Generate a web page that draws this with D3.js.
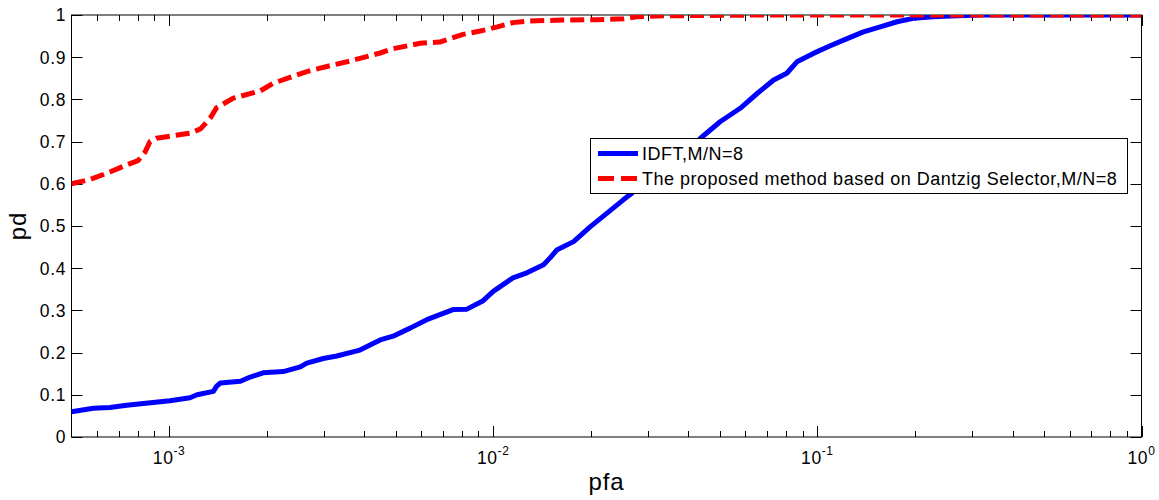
<!DOCTYPE html>
<html>
<head>
<meta charset="utf-8">
<script src="https://cdn.jsdelivr.net/npm/d3@7"></script>
<style>
  body { margin: 0; background: #fff; }
  svg text { font-family: "Liberation Sans", Arial, sans-serif; fill: #000; }
</style>
</head>
<body>
<div id="chart"></div>
<script>
// IDFT, M/N=8
const idftPfa = [5.0e-4, 5.84e-4, 6.57e-4, 7.40e-4, 8.92e-4, 1.007e-3, 1.16e-3, 1.22e-3, 1.37e-3, 1.40e-3, 1.44e-3,
  1.66e-3, 1.78e-3, 1.95e-3, 2.25e-3, 2.54e-3, 2.66e-3, 2.99e-3, 3.29e-3, 3.88e-3, 4.48e-3, 4.91e-3, 5.54e-3,
  6.24e-3, 7.01e-3, 7.52e-3, 8.30e-3, 9.31e-3, 1.0e-2, 1.15e-2, 1.27e-2, 1.43e-2, 1.50e-2, 1.57e-2, 1.77e-2,
  1.99e-2, 2.24e-2, 2.52e-2, 2.84e-2, 3.27e-2, 3.78e-2, 4.36e-2, 5.01e-2, 5.78e-2, 6.52e-2, 7.33e-2, 8.05e-2,
  8.65e-2, 9.72e-2, 0.1096, 0.1236, 0.1387, 0.1563, 0.1762, 0.1977, 0.228, 0.270, 0.318, 1.0];
const idftPd = [0.060, 0.068, 0.070, 0.075, 0.082, 0.086, 0.093, 0.100, 0.108, 0.120, 0.128,
  0.132, 0.142, 0.152, 0.155, 0.166, 0.175, 0.186, 0.192, 0.206, 0.230, 0.239, 0.258,
  0.278, 0.293, 0.302, 0.303, 0.323, 0.345, 0.377, 0.389, 0.408, 0.425, 0.443, 0.463,
  0.498, 0.530, 0.562, 0.593, 0.625, 0.664, 0.708, 0.747, 0.779, 0.814, 0.846, 0.862,
  0.889, 0.909, 0.927, 0.944, 0.960, 0.972, 0.984, 0.992, 0.996, 0.9985, 1.0, 1.0];

// Dantzig Selector, M/N=8
const dsPfa = [5.0e-4, 5.70e-4, 6.57e-4, 7.31e-4, 8.02e-4, 8.43e-4, 8.73e-4, 9.16e-4, 1.16e-3, 1.25e-3, 1.34e-3,
  1.40e-3, 1.58e-3, 1.91e-3, 2.09e-3, 2.66e-3, 3.14e-3, 3.62e-3, 4.48e-3, 4.91e-3, 5.95e-3, 6.85e-3, 7.36e-3,
  8.07e-3, 9.12e-3, 1.03e-2, 1.15e-2, 1.30e-2, 1.64e-2, 2.09e-2, 2.52e-2, 2.77e-2, 3.35e-2, 6.67e-2, 1.0];
const dsPd = [0.600, 0.610, 0.628, 0.643, 0.655, 0.675, 0.700, 0.708, 0.720, 0.730, 0.756,
  0.780, 0.803, 0.820, 0.838, 0.866, 0.880, 0.891, 0.910, 0.920, 0.933, 0.936, 0.944,
  0.954, 0.962, 0.972, 0.982, 0.986, 0.988, 0.989, 0.991, 0.996, 0.998, 1.0, 1.0];

const yTicks = [0, 0.1, 0.2, 0.3, 0.4, 0.5, 0.6, 0.7, 0.8, 0.9, 1];
const xMajor = [-3, -2, -1, 0];
const legendLabels = ["IDFT,M/N=8", "The proposed method based on Dantzig Selector,M/N=8"];

const W = 1159, H = 500;
const pLeft = 71.5, pRight = 1141.5, pTop = 15, pBottom = 437;

const svg = d3.select("#chart").append("svg").attr("width", W).attr("height", H);

const x = d3.scaleLog().domain([5e-4, 1]).range([pLeft, pRight]);
const y = d3.scaleLinear().domain([0, 1]).range([pBottom, pTop]);

svg.append("defs").append("clipPath").attr("id", "plotclip")
  .append("rect").attr("x", pLeft).attr("y", pTop).attr("width", pRight - pLeft).attr("height", pBottom - pTop);

// minor ticks of the log axis
const minor = [];
for (let e = -4; e < 0; e++) {
  for (let m = 2; m <= 9; m++) {
    const v = m * Math.pow(10, e);
    if (v > 5e-4 && v < 1) minor.push(v);
  }
}

const axes = svg.append("g").attr("stroke", "#000").attr("stroke-width", 1).attr("fill", "none");

// frame
axes.append("rect").attr("x", pLeft).attr("y", pTop).attr("width", pRight - pLeft).attr("height", pBottom - pTop);

// x ticks, bottom & top, inward
minor.forEach(function(v) {
  const px = Math.round(x(v)) + 0.5;
  axes.append("line").attr("x1", px).attr("x2", px).attr("y1", pBottom).attr("y2", pBottom - 6);
  axes.append("line").attr("x1", px).attr("x2", px).attr("y1", pTop).attr("y2", pTop + 6);
});
xMajor.forEach(function(e) {
  const px = Math.round(x(Math.pow(10, e))) + 0.5;
  axes.append("line").attr("x1", px).attr("x2", px).attr("y1", pBottom).attr("y2", pBottom - 11);
  axes.append("line").attr("x1", px).attr("x2", px).attr("y1", pTop).attr("y2", pTop + 11);
});

// y ticks, left & right, inward
yTicks.forEach(function(v) {
  const py = Math.round(y(v)) + 0.5;
  axes.append("line").attr("x1", pLeft).attr("x2", pLeft + 11).attr("y1", py).attr("y2", py);
  axes.append("line").attr("x1", pRight).attr("x2", pRight - 11).attr("y1", py).attr("y2", py);
});

// y tick labels
svg.append("g").selectAll("text").data(yTicks).enter().append("text")
  .attr("x", 66)
  .attr("y", function(d) { return y(d); })
  .attr("dy", "0.36em")
  .attr("text-anchor", "end")
  .style("font-size", "17.5px")
  .style("letter-spacing", "0.6px")
  .text(function(d) { return d3.format("")(d); });

// x tick labels 10^e
const xl = svg.append("g").selectAll("text").data(xMajor).enter().append("text")
  .attr("x", function(d) { return x(Math.pow(10, d)); })
  .attr("y", 464)
  .attr("text-anchor", "middle")
  .style("font-size", "17.5px")
  .style("letter-spacing", "0.6px");
xl.append("tspan").text("10");
xl.append("tspan").attr("dy", -9).style("font-size", "12px").text(function(d) { return d; });

// axis labels
svg.append("text").attr("x", (pLeft + pRight) / 2).attr("y", 490)
  .attr("text-anchor", "middle").style("font-size", "24px").style("letter-spacing", "0.8px").text("pfa");
svg.append("text").attr("transform", "translate(26," + ((pTop + pBottom) / 2) + ") rotate(-90)")
  .attr("text-anchor", "middle").style("font-size", "24px").style("letter-spacing", "0.8px").text("pd");

// curves
const line = d3.line()
  .x(function(d) { return x(d[0]); })
  .y(function(d) { return y(d[1]); });

const plot = svg.append("g").attr("clip-path", "url(#plotclip)");

plot.append("path")
  .datum(d3.zip(idftPfa, idftPd))
  .attr("d", line)
  .attr("fill", "none")
  .attr("stroke", "#0000ff")
  .attr("stroke-width", 5)
  .attr("stroke-linejoin", "round");

plot.append("path")
  .datum(d3.zip(dsPfa, dsPd))
  .attr("d", line)
  .attr("fill", "none")
  .attr("stroke", "#ff0000")
  .attr("stroke-width", 5)
  .attr("stroke-dasharray", "14,6");

// legend
const lg = svg.append("g");
lg.append("rect").attr("x", 590.5).attr("y", 138.5).attr("width", 537).attr("height", 55)
  .attr("fill", "#fff").attr("stroke", "#000").attr("stroke-width", 1);

const legendRows = [
  { label: legendLabels[0], color: "#0000ff", dash: null, y: 153.5 },
  { label: legendLabels[1], color: "#ff0000", dash: "16,7", y: 178.5 }
];
legendRows.forEach(function(r) {
  lg.append("line").attr("x1", 598).attr("x2", 638).attr("y1", r.y).attr("y2", r.y)
    .attr("stroke", r.color).attr("stroke-width", 5).attr("stroke-dasharray", r.dash);
  lg.append("text").attr("x", 642).attr("y", r.y).attr("dy", "0.36em")
    .style("font-size", "18px").style("letter-spacing", "0.5px").text(r.label);
});
</script>
</body>
</html>
